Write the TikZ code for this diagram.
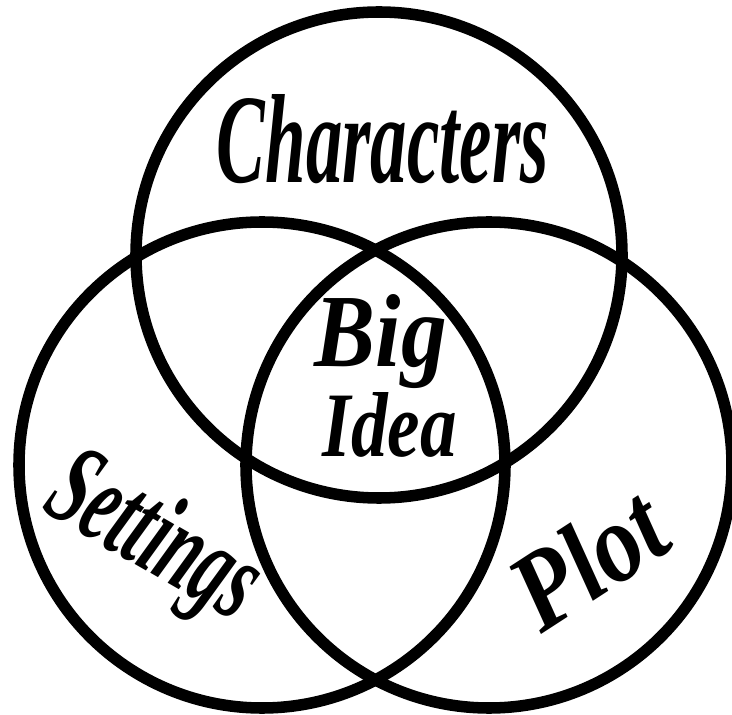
\documentclass[tikz,border=0pt]{standalone}
\usepackage{fontspec}
\setmainfont{Liberation Serif}
\usepackage{graphicx}
\newcommand{\scriptword}{\bfseries\itshape}
\newlength{\pxunit}
\setlength{\pxunit}{0.025cm}
\begin{document}
\begin{tikzpicture}[x=0.025cm,y=-0.025cm,line cap=round,line join=round,
  ring/.style={line width=8.2pt},
  word/.style={inner sep=0pt,anchor=base}]
  \useasboundingbox (0,0) rectangle (732,715);
  \def\rad{243}
  \coordinate (Ch) at (379,255);
  \coordinate (Se) at (262,465);
  \coordinate (Pl) at (489,465);
  \draw[ring] (Ch) circle[radius=\rad];
  \draw[ring] (Se) circle[radius=\rad];
  \draw[ring] (Pl) circle[radius=\rad];
  % labels
  \node[word] (chars) at (383,183) {\resizebox{332\pxunit}{88\pxunit}{\scriptword Characters}};
  \node[word] (big) at (381,367) {\resizebox{132\pxunit}{72\pxunit}{\scriptword Big}};
  \node[word] (idea) at (390,457) {\resizebox{134\pxunit}{64\pxunit}{\scriptword Idea}};
  \node[word,rotate=-30] (sett) at (138,566) {\resizebox{225\pxunit}{82\pxunit}{\scriptword Settings}};
  \node[word,rotate=33] (plot) at (609,591) {\resizebox{160\pxunit}{78\pxunit}{\scriptword Plot}};
\end{tikzpicture}
\end{document}
